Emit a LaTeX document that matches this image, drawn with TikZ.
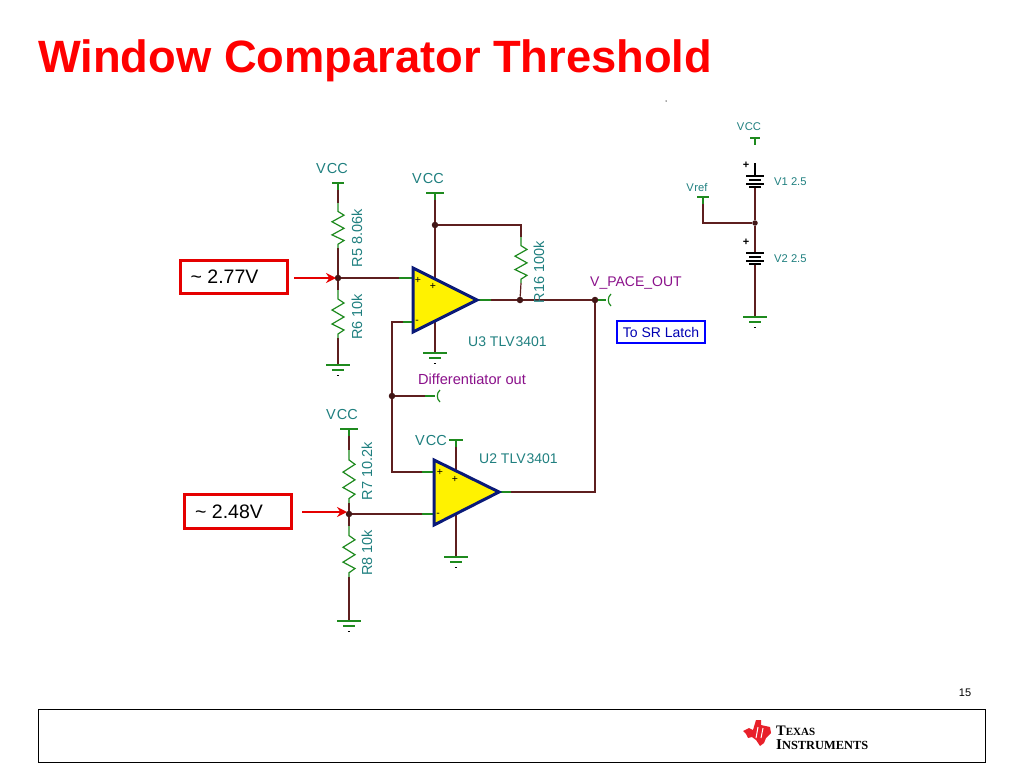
\documentclass[tikz,border=0pt]{standalone}
\usepackage{fontspec}
\setmainfont{Liberation Sans}
\newfontfamily\logofont{Liberation Serif}
\usetikzlibrary{arrows.meta}

\definecolor{wirebrown}{HTML}{5E1F1F}
\definecolor{stubgreen}{HTML}{1E8A1E}
\definecolor{labelteal}{HTML}{1F7F7F}
\definecolor{netpurple}{HTML}{8A108A}
\definecolor{ampnavy}{HTML}{0A1A78}
\definecolor{tired}{HTML}{E8202A}

\tikzset{
  wire/.style={draw=wirebrown, line width=1.2pt},
  stub/.style={draw=stubgreen, line width=1.2pt},
  junction/.style={circle, fill=wirebrown!70!black, inner sep=0pt, minimum size=6.5pt},
  partlabel/.style={text=labelteal, inner sep=0pt, font=\fontsize{14.5}{15}\selectfont},
  smalllabel/.style={text=labelteal, inner sep=0pt, font=\fontsize{11.2}{12}\selectfont},
  netlabel/.style={text=netpurple, inner sep=0pt, font=\fontsize{14.6}{15}\selectfont},
  opamp/.style={draw=ampnavy, line width=3pt, fill=yellow, line join=miter},
  callout/.style={draw=red!90!black, line width=3pt, inner sep=0pt, font=\fontsize{19.5}{20}\selectfont},
  callarrow/.style={draw=red!90!black, line width=2.5pt, -{Stealth[length=10pt,width=10pt]}},
  % Zigzag drawn for a height of 48, going down from the pic origin
  pics/resistor/.style={
    code={
      \draw[stub] (0,0) -- (0,9) -- (6,13) -- (-6,20) -- (6,27) -- (-6,34) -- (6,40) -- (0,44) -- (0,48);
    }
  },
  % Bars and little tick below the origin of the ground
  pics/earth/.style={
    code={
      \draw[stub] (-12,0) -- (12,0);
      \draw[stub] (-6,5) -- (6,5);
      \draw[black, line width=.9pt] (-1.2,10) -- (1.2,10);
    }
  },
  pics/rail/.style={
    code={
      \draw[stub] (-#1,0) -- (#1,0);
      \draw[stub] (0,0) -- (0,7);
    }
  },
  % Battery with its plus sign, plates start at the origin
  pics/cell/.style={
    code={
      \draw[black, line width=1.2pt] (-9,0) -- (9,0);
      \draw[black, line width=2.2pt] (-6,4) -- (6,4);
      \draw[black, line width=1.2pt] (-9,8) -- (9,8);
      \draw[black, line width=2.2pt] (-6,11) -- (6,11);
      \node[inner sep=0pt, font=\fontsize{11}{11}\bfseries] at (-9,-11) {+};
    }
  }
}

\begin{document}
\begin{tikzpicture}[x=1pt, y=-1pt]
  \useasboundingbox (0,0) rectangle (1024,768);

  \node[text=red, font=\fontsize{45.3}{46}\bfseries\selectfont, anchor=west, inner sep=0pt] (title) at (38,61)
    {Window Comparator Threshold};
  \node[circle, fill=black!70, inner sep=0pt, minimum size=1.5pt] (speck) at (666,101) {};

  % Left dividers, top
  \coordinate (r5top) at (338,183);
  \coordinate (r5a) at (338,203);
  \coordinate (r5b) at (338,248);
  \coordinate (r6a) at (338,290);
  \coordinate (r6b) at (338,338);
  \coordinate (gnd5) at (338,365);
  \node[junction] (j5) at (338,278) {};

  % Left dividers, bottom
  \coordinate (r7top) at (349,429);
  \coordinate (r7a) at (349,450);
  \coordinate (r7b) at (349,503);
  \coordinate (r8a) at (349,526);
  \coordinate (r8b) at (349,577);
  \coordinate (gnd7) at (349,621);
  \node[junction] (j7) at (349,514) {};

  % U3 corners and pins
  \coordinate (u3a) at (413,268);
  \coordinate (u3b) at (477,300);
  \coordinate (u3c) at (413,332);
  \coordinate (u3p) at (413,278);
  \coordinate (u3m) at (413,322);
  \coordinate (u3up) at (435,279);
  \coordinate (u3dn) at (435,321);
  \coordinate (vcc3) at (435,193);
  \coordinate (gnd3) at (435,353);
  \node[junction] (j3) at (435,225) {};
  \coordinate (r16c) at (521,225);
  \coordinate (r16a) at (521,237);
  \coordinate (r16b) at (521,283);
  \node[junction] (j16) at (520,300) {};
  \node[junction] (jout) at (595,300) {};
  \coordinate (outend) at (606,300);

  % U2 corners and pins
  \coordinate (u2a) at (434,460);
  \coordinate (u2b) at (499,492);
  \coordinate (u2c) at (434,525);
  \coordinate (u2p) at (434,472);
  \coordinate (u2m) at (434,514);
  \coordinate (u2up) at (456,471);
  \coordinate (u2dn) at (456,514);
  \coordinate (vcc2) at (456,440);
  \coordinate (gnd2) at (456,557);
  \coordinate (fbtop) at (392,322);
  \coordinate (fbbot) at (392,472);
  \node[junction] (jdiff) at (392,396) {};
  \coordinate (diffend) at (435,396);
  \coordinate (outcorner) at (595,492);

  % Reference stack
  \coordinate (vcc1) at (755,138);
  \coordinate (v1top) at (755,163);
  \coordinate (v1a) at (755,176);
  \coordinate (v1b) at (755,187);
  \node[junction, minimum size=5.5pt] (jref) at (755,223) {};
  \coordinate (v2a) at (755,253);
  \coordinate (v2b) at (755,264);
  \coordinate (gnd1) at (755,317);
  \coordinate (vref) at (703,197);
  \coordinate (vrefc) at (703,223);

  % Wires first, the parts sit over them
  \draw[wire] (r5top) -- (r5a);
  \draw[wire] (r5b) -- (j5);
  \draw[wire] (j5) -- (r6a);
  \draw[wire] (r6b) -- (gnd5);
  \draw[wire] (j5) -- (u3p);
  \draw[wire] (vcc3) -- (j3) -- (u3up);
  \draw[wire] (j3) -- (r16c) -- (r16a);
  \draw[wire] (r16b) -- (j16);
  \draw[wire] (u3dn) -- (gnd3);
  \draw[wire] (u3b) -- (j16) -- (jout);
  \draw[stub] (jout) -- (outend);
  \draw[wire] (jout) -- (outcorner) -- (u2b);
  \draw[wire] (u3m) -- (fbtop) -- (jdiff) -- (fbbot) -- (u2p);
  \draw[wire] (jdiff) -- (diffend);
  \draw[wire] (r7top) -- (r7a);
  \draw[wire] (r7b) -- (j7);
  \draw[wire] (j7) -- (r8a);
  \draw[wire] (r8b) -- (gnd7);
  \draw[wire] (j7) -- (u2m);
  \draw[wire] (vcc2) -- (u2up);
  \draw[wire] (u2dn) -- (gnd2);
  \draw[wire] (v1b) -- (jref) -- (v2a);
  \draw[wire] (v2b) -- (gnd1);
  \draw[black, line width=1.2pt] (v1top) -- (v1a);
  \draw[wire] (vref) -- (vrefc) -- (jref);

  % Green pin ends
  \draw[stub] ([xshift=-14pt]u3p) -- (u3p);
  \draw[stub] ([xshift=-10pt]u3m) -- (u3m);
  \draw[stub] ([xshift=-12pt]u2p) -- (u2p);
  \draw[stub] ([xshift=-12pt]u2m) -- (u2m);
  \draw[stub] (u3b) -- ([xshift=14pt]u3b);
  \draw[stub] (u2b) -- ([xshift=12pt]u2b);
  \draw[stub] (diffend) -- ([xshift=-10pt]diffend);

  \pic[yscale=45/48] at (r5a) {resistor};
  \pic at (r6a) {resistor};
  \pic[yscale=46/48] at (r16a) {resistor};
  \pic[yscale=53/48] at (r7a) {resistor};
  \pic[yscale=51/48] at (r8a) {resistor};

  \foreach \gndname in {gnd5, gnd7, gnd3, gnd2, gnd1}{
    \pic at (\gndname) {earth};
  }
  \foreach \railname/\railsize in {r5top/6, vcc3/9, r7top/9, vcc2/7, vcc1/5, vref/6}{
    \pic at (\railname) {rail=\railsize};
  }
  \pic at (v1a) {cell};
  \pic at (v2a) {cell};

  % Connector hooks
  \draw[stubgreen, line width=1.2pt] ([xshift=5pt,yshift=-6pt]outend) to[bend left=50] ([xshift=5pt,yshift=6pt]outend);
  \draw[stubgreen, line width=1.2pt] ([xshift=5pt,yshift=-6pt]diffend) to[bend left=50] ([xshift=5pt,yshift=6pt]diffend);

  % Amplifiers
  \draw[opamp] (u3a) -- (u3b) -- (u3c) -- cycle;
  \draw[opamp] (u2a) -- (u2b) -- (u2c) -- cycle;
  \foreach \signname/\signx/\signy/\signtext in {s3a/418/280/+, s3b/433/286/+, s3c/417/322/-, s2a/440/472/+, s2b/455/479/+, s2c/438/515/-}{
    \node[inner sep=0pt, font=\fontsize{10.5}{10}\selectfont] (\signname) at (\signx,\signy) {\signtext};
  }

  % Part labels
  \node[partlabel] (vccA) at (332,169) {V\kern1pt CC};
  \node[partlabel] (vccB) at (428,179) {V\kern1pt CC};
  \node[partlabel] (vccC) at (342,415) {V\kern1pt CC};
  \node[partlabel] (vccD) at (431,441) {V\kern1pt CC};
  \node[smalllabel] (vccE) at (749,127) {V\kern.5pt CC};
  \node[smalllabel] (vrefl) at (697,187) {V\kern.5pt ref};
  \node[smalllabel, anchor=west] (v1l) at (774,182) {V1 2.5};
  \node[smalllabel, anchor=west] (v2l) at (774,259) {V2 2.5};
  \node[partlabel, rotate=90] (r5l) at (357,238) {R5 8.06k};
  \node[partlabel, rotate=90] (r6l) at (357,317) {R6 10k};
  \node[partlabel, rotate=90] (r16l) at (539,272) {R16 100k};
  \node[partlabel, rotate=90] (r7l) at (367,471) {R7 10.2k};
  \node[partlabel, rotate=90] (r8l) at (367,553) {R8 10k};
  \node[partlabel, anchor=west, font=\fontsize{14}{15}\selectfont] (u3l) at (468,342) {U3 TLV\kern1pt 3401};
  \node[partlabel, anchor=west, font=\fontsize{14}{15}\selectfont] (u2l) at (479,459) {U2 TLV\kern1pt 3401};
  \node[netlabel, anchor=west] (diffl) at (418,379) {Differentiator out};
  \node[netlabel, anchor=west, font=\fontsize{14}{15}\selectfont] (outl) at (590,283) {V\_PACE\_OUT};
  \node[draw=blue, line width=1.2pt, text=blue!70!black, inner sep=0pt, minimum width=88pt, minimum height=22pt, font=\fontsize{14}{15}\selectfont] (latch) at (661,332) {To SR Latch};

  % Callouts
  \node[callout, minimum width=107pt, minimum height=33pt] (low) at (233.5,276.5) {\hspace*{-18pt}\textasciitilde{} 2.77V};
  \node[callout, minimum width=107pt, minimum height=34pt] (high) at (238,511.5) {\hspace*{-18pt}\textasciitilde{} 2.48V};
  \coordinate (lowstart) at (294,278);
  \coordinate (lowend) at (336,278);
  \coordinate (highstart) at (302,512);
  \coordinate (highend) at (347,512);
  \draw[callarrow] (lowstart) -- (lowend);
  \draw[callarrow] (highstart) -- (highend);

  % Footer
  \node[draw=black, line width=1pt, minimum width=947pt, minimum height=53pt, inner sep=0pt] (footer) at (511.5,735.5) {};
  \node[inner sep=0pt, font=\fontsize{11}{11}\selectfont] (pagenum) at (965,693) {15};
  \fill[tired] (743,731) -- (749,728) -- (753,730) -- (756,720) -- (761,720) -- (761,725) -- (770,727) -- (771,733) -- (766,738) -- (764,743) -- (760,746) -- (756,740) -- (752,737) -- (748,738) -- (746,734) -- cycle;
  \draw[white, line width=1pt] (758,727) -- (756,738);
  \draw[white, line width=1pt] (763,728) -- (761,738);
  \node[anchor=west, inner sep=0pt, font=\logofont\bfseries] (tilogoA) at (776,731) {\fontsize{14.5}{14}\selectfont T\fontsize{11}{14}\selectfont EXAS};
  \node[anchor=west, inner sep=0pt, font=\logofont\bfseries] (tilogoB) at (776,745) {\fontsize{15}{14}\selectfont I\fontsize{12.4}{14}\selectfont NSTRUMENTS};
\end{tikzpicture}
\end{document}
